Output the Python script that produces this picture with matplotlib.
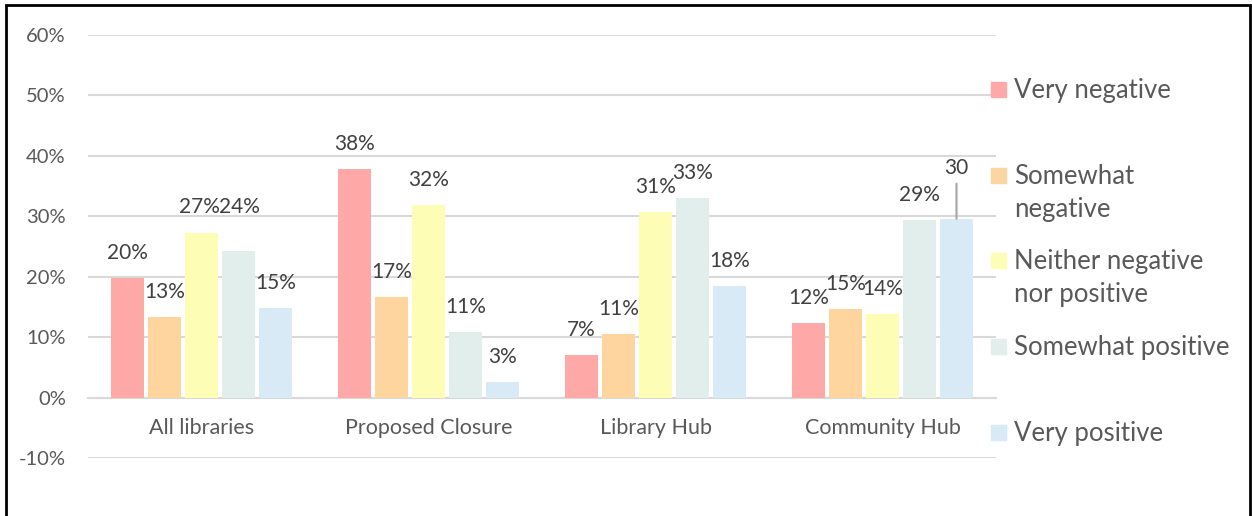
import matplotlib.pyplot as plt
import matplotlib.patches as mpatches
import numpy as np

plt.rcParams['font.family'] = ['Lato', 'DejaVu Sans']

categories = ["All libraries", "Proposed Closure", "Library Hub", "Community Hub"]
series = ["Very negative", "Somewhat\nnegative", "Neither negative\nnor positive",
          "Somewhat positive", "Very positive"]
colors = ["#FFA8A8", "#FFD59F", "#FEFDB5", "#E2EEEC", "#D7EAF5"]

very_negative = [19.8, 37.8, 7.0, 12.3]
somewhat_negative = [13.4, 16.6, 10.6, 14.6]
neither = [27.2, 31.8, 30.7, 13.8]
somewhat_positive = [24.2, 10.9, 33.0, 29.4]
very_positive = [14.9, 2.6, 18.4, 29.6]
values = [very_negative, somewhat_negative, neither, somewhat_positive, very_positive]

fig = plt.figure(figsize=(12.52, 5.16), dpi=100)
ax = fig.add_axes([88 / 1252, 1 - 458 / 516, 908 / 1252, 423 / 516])

x = np.arange(len(categories))
width = 0.141
step = 0.163

for i, vals in enumerate(values):
    pos = x + (i - 2) * step
    ax.bar(pos, vals, width=width, color=colors[i], zorder=3)
    for j, v in enumerate(vals):
        off = (0, 25)
        text = f"{v:.0f}%"
        # labels that were moved by hand in the original
        if i == 2 and j == 0:
            off = (-2, 26)
        if i == 3 and j == 0:
            off = (1, 44)
        if i == 4 and j == 3:
            off = (0, 51)
            text = f"{v:.0f}"
            ax.annotate("", xy=(pos[j], v), xytext=(0, 35), textcoords='offset pixels',
                        arrowprops=dict(arrowstyle='-', color='#A6A6A6', lw=1.5,
                                        shrinkA=0, shrinkB=0))
        ax.annotate(text, xy=(pos[j], v), xytext=off, textcoords='offset pixels',
                    ha='center', va='center', fontsize=15, color='#404040')

ax.set_ylim(-10, 60)
ax.set_xlim(-0.5, 3.5)
ax.set_yticks(np.arange(-10, 61, 10))
ax.set_yticklabels([f"{t}%" for t in range(-10, 61, 10)])
ax.yaxis.grid(True, color='#D9D9D9', lw=1.5, zorder=0)
ax.set_axisbelow(True)

ax.spines['bottom'].set_position(('data', 0))
ax.spines['bottom'].set_color('#D9D9D9')
ax.spines['bottom'].set_linewidth(1.5)
for s in ['left', 'right', 'top']:
    ax.spines[s].set_visible(False)

ax.set_xticks(x)
ax.set_xticklabels(categories)
ax.tick_params(axis='x', length=0, pad=15, labelsize=15.5, labelcolor='#595959')
ax.tick_params(axis='y', length=0, pad=16, labelsize=14.5, labelcolor='#595959')

# legend drawn by hand so the marker sits at the first line of wrapped labels
legend_y = [82, 168, 253, 339, 425]
for name, c, ly in zip(series, colors, legend_y):
    fig.patches.append(mpatches.Rectangle((991 / 1252, 1 - (ly + 15) / 516), 15 / 1252, 15 / 516,
                                          transform=fig.transFigure, color=c))
    fig.text(1014 / 1252, 1 - (ly - 4) / 516, name, fontsize=18.5, color='#595959',
             va='top', ha='left', linespacing=1.42)

# outer border
fig.patches.append(mpatches.Rectangle((6 / 1252, -0.05), 1244 / 1252, 1.05 - 5 / 516,
                                      transform=fig.transFigure, fill=False,
                                      edgecolor='black', lw=2))

fig.savefig("out.png", dpi=100)
